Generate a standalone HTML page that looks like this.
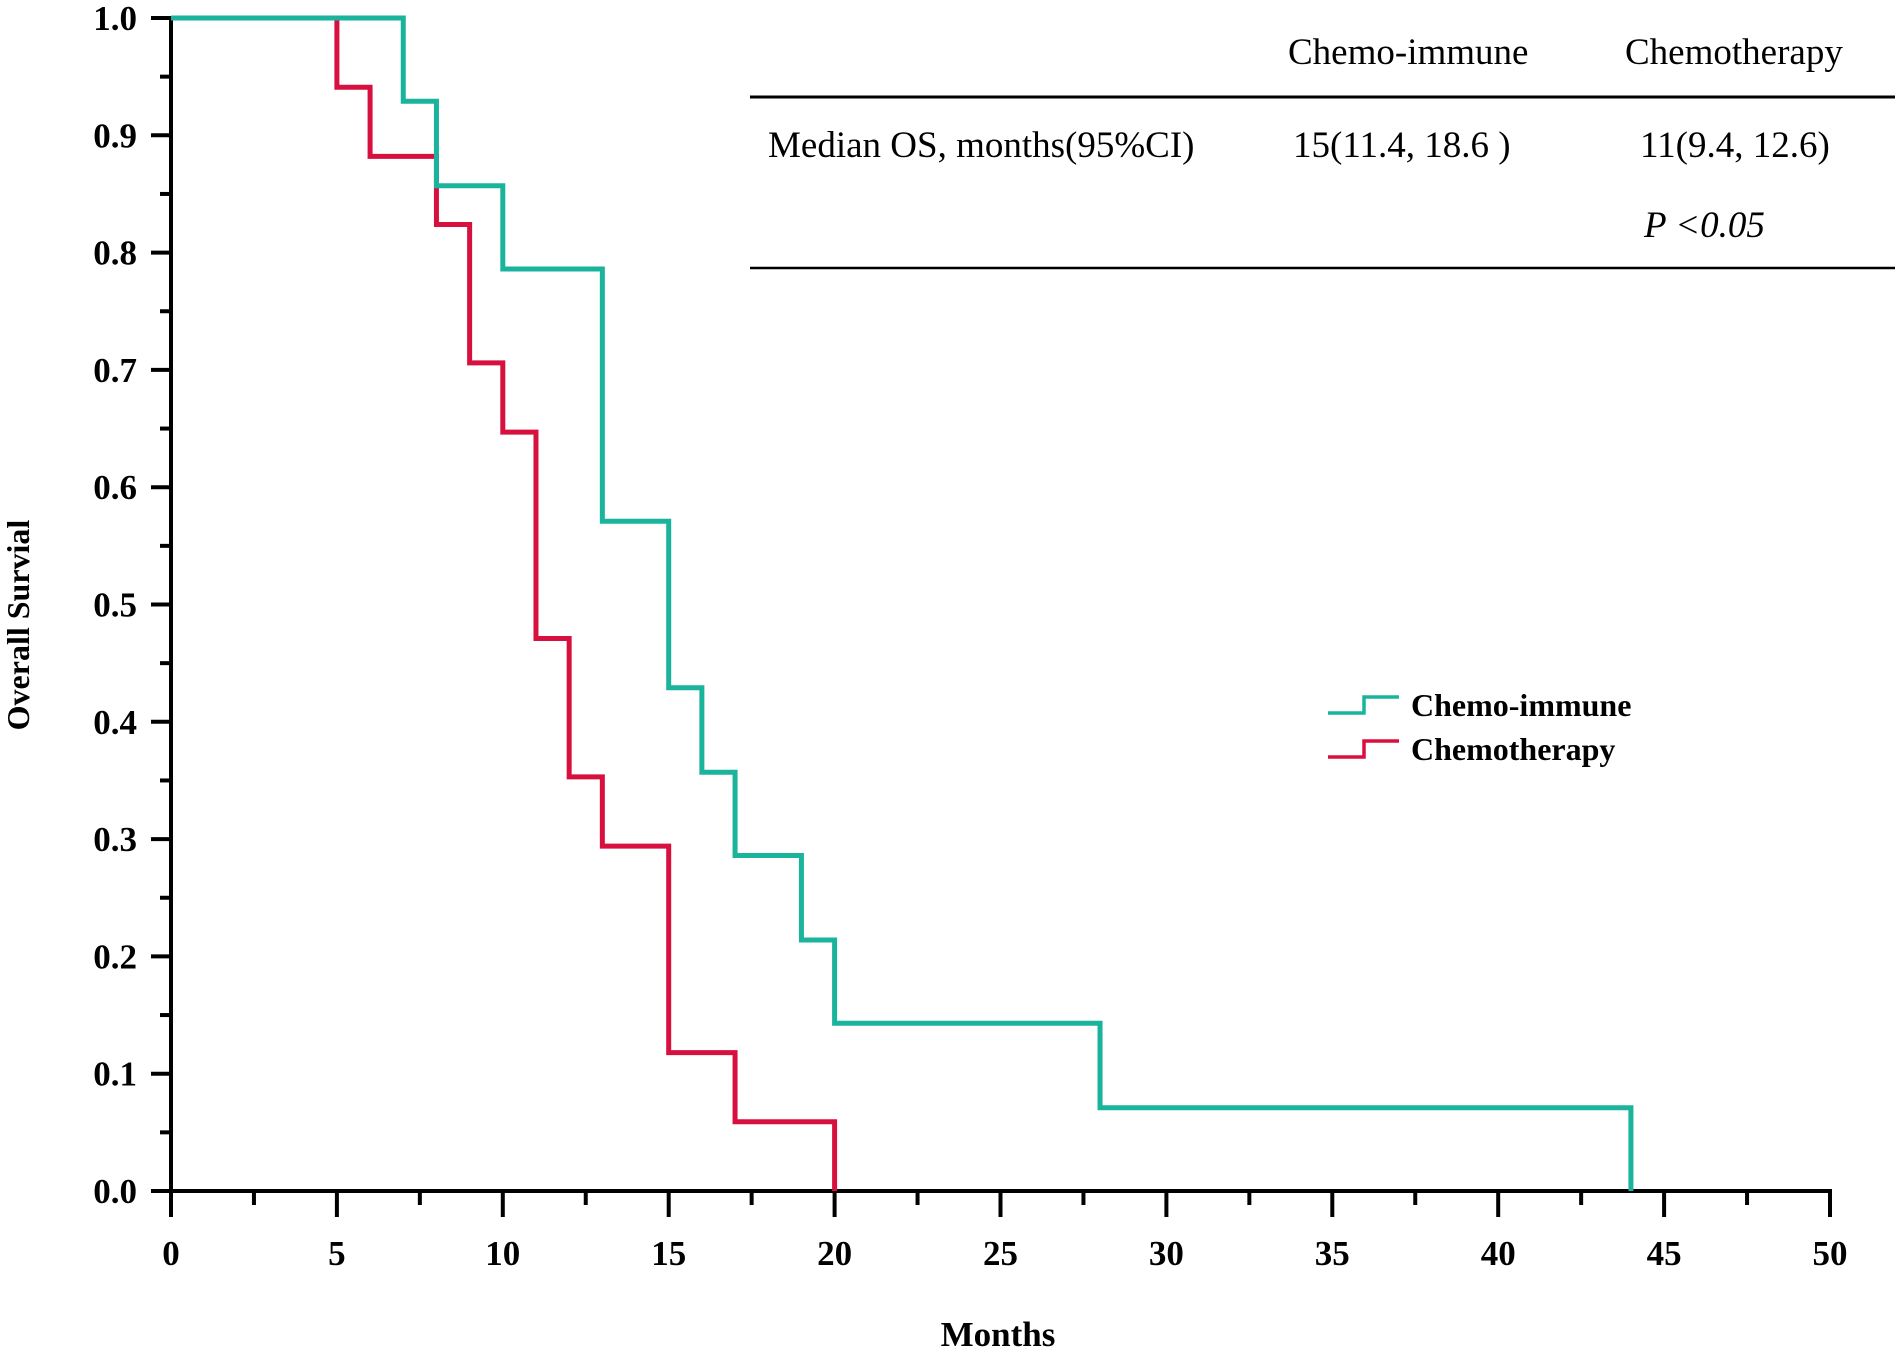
<!DOCTYPE html>
<html><head><meta charset="utf-8"><style>
body{margin:0;background:#fff}
svg text{font-family:"Liberation Serif",serif}
</style></head><body>
<svg id="chart" width="1902" height="1353" viewBox="0 0 1902 1353" xmlns="http://www.w3.org/2000/svg">
<g id="axes"></g>
<g id="curves"></g>
<g font-size="37">
<text x="1288" y="64">Chemo-immune</text>
<text x="1625" y="64">Chemotherapy</text>
<line x1="750" y1="97" x2="1895" y2="97" stroke="#000" stroke-width="3"/>
<text x="768" y="157">Median OS, months(95%CI)</text>
<text x="1293" y="157">15(11.4, 18.6 )</text>
<text x="1640" y="157">11(9.4, 12.6)</text>
<text x="1644" y="237" font-style="italic">P &lt;0.05</text>
<line x1="750" y1="268" x2="1895" y2="268" stroke="#000" stroke-width="2.5"/>
</g>
<g font-size="32" font-weight="bold">
<path d="M1328 713 H1364 V697 H1399" fill="none" stroke="#1ab39b" stroke-width="3.5"/>
<text x="1411" y="716">Chemo-immune</text>
<path d="M1328 757 H1364 V741 H1399" fill="none" stroke="#d8103f" stroke-width="3.5"/>
<text x="1411" y="760">Chemotherapy</text>
</g>
<text x="998" y="1346" font-size="35" font-weight="bold" text-anchor="middle">Months</text>
<text transform="translate(29,625) rotate(-90)" font-size="32" font-weight="bold" text-anchor="middle">Overall Survial</text>
</svg>
<script>
const xTicks=[0,5,10,15,20,25,30,35,40,45,50];
const yTicks=[0.0,0.1,0.2,0.3,0.4,0.5,0.6,0.7,0.8,0.9,1.0];
const immuneTimes=[0,7,8,10,13,15,16,17,19,20,28,44];
const immuneSurv=[1.0,0.929,0.857,0.786,0.571,0.429,0.357,0.286,0.214,0.143,0.071,0.0];
const chemoTimes=[0,5,6,8,9,10,11,12,13,15,17,20];
const chemoSurv=[1.0,0.941,0.882,0.824,0.706,0.647,0.471,0.353,0.294,0.118,0.059,0.0];
const NS='http://www.w3.org/2000/svg';
const X=v=>171+v*(1830-171)/50;
const Y=v=>1191-v*(1191-18);
const axes=document.getElementById('axes');
function mk(tag,attrs,parent){const e=document.createElementNS(NS,tag);for(const k in attrs)e.setAttribute(k,attrs[k]);parent.appendChild(e);return e;}
let l=mk('line',{x1:X(0),y1:Y(1),x2:X(0),y2:Y(0)+2,stroke:'#000','stroke-width':4},axes);


l=mk('line',{x1:X(0)-2,y1:Y(0),x2:X(50)+2,y2:Y(0),stroke:'#000','stroke-width':4},axes);


for(let i=0;i<=20;i++){const v=i*0.05;const maj=i%2===0;
 const t=mk('line',{x1:X(0)-(maj?20:11),y1:Y(v),x2:X(0),y2:Y(v),stroke:'#000','stroke-width':4},axes);
 
 }
yTicks.forEach(v=>{const t=mk('text',{x:137,y:Y(v)+12,'font-size':35,'font-weight':'bold','text-anchor':'end'},axes);t.textContent=v.toFixed(1);
 
 });
for(let i=0;i<=20;i++){const v=i*2.5;const maj=i%2===0;
 const t=mk('line',{x1:X(v),y1:Y(0),x2:X(v),y2:Y(0)+(maj?26:14),stroke:'#000','stroke-width':4},axes);
 
 }
xTicks.forEach(v=>{const t=mk('text',{x:X(v),y:1265,'font-size':35,'font-weight':'bold','text-anchor':'middle'},axes);t.textContent=v;
 
 });
const curves=document.getElementById('curves');
function step(ts,ss){let d='M'+X(ts[0])+' '+Y(ss[0]);for(let i=1;i<ts.length;i++){d+=' H'+X(ts[i])+' V'+Y(ss[i]);}return d;}
let p=mk('path',{d:step(chemoTimes,chemoSurv),fill:'none',stroke:'#d8103f','stroke-width':5},curves);


p=mk('path',{d:step(immuneTimes,immuneSurv),fill:'none',stroke:'#1ab39b','stroke-width':5},curves);


</script>
</body></html>
